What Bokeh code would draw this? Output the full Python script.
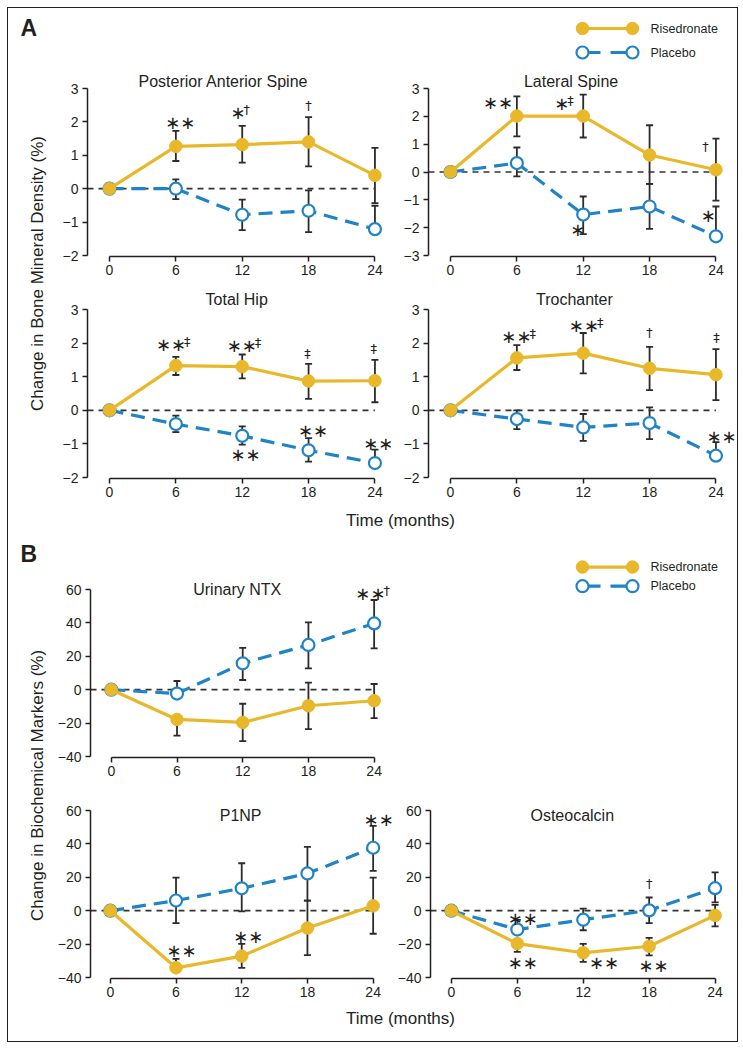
import math
from bokeh.plotting import figure
from bokeh.layouts import column, row
from bokeh.models import Range1d, FixedTicker, ColumnDataSource, Whisker, TeeHead
from bokeh.core.properties import value
from bokeh.embed import file_html
from bokeh.resources import INLINE

# ---------------- data ----------------
months = [0, 6, 12, 18, 24]
series_names = ["Risedronate", "Placebo"]

# Panel A: change in BMD (%)
pa_ris = [0, 1.27, 1.32, 1.40, 0.40]
pa_ris_lo = [0, 0.83, 0.78, 0.67, -0.43]
pa_ris_hi = [0, 1.73, 1.88, 2.14, 1.22]
pa_pla = [0, 0.0, -0.78, -0.66, -1.21]
pa_pla_lo = [0, -0.31, -1.24, -1.30, -1.21]
pa_pla_hi = [0, 0.28, -0.33, -0.05, -0.51]

lat_ris = [0, 2.01, 2.01, 0.61, 0.08]
lat_ris_lo = [0, 1.28, 1.24, -0.43, -1.03]
lat_ris_hi = [0, 2.72, 2.78, 1.68, 1.20]
lat_pla = [0, 0.32, -1.53, -1.24, -2.31]
lat_pla_lo = [0, -0.16, -2.23, -2.04, -2.31]
lat_pla_hi = [0, 0.88, -0.88, -0.43, -1.24]

hip_ris = [0, 1.33, 1.30, 0.87, 0.88]
hip_ris_lo = [0, 1.05, 0.95, 0.34, 0.24]
hip_ris_hi = [0, 1.59, 1.66, 1.38, 1.50]
hip_pla = [0, -0.41, -0.76, -1.19, -1.57]
hip_pla_lo = [0, -0.65, -1.02, -1.53, -1.57]
hip_pla_hi = [0, -0.16, -0.48, -0.83, -1.17]

tro_ris = [0, 1.56, 1.70, 1.25, 1.06]
tro_ris_lo = [0, 1.20, 1.10, 0.60, 0.30]
tro_ris_hi = [0, 1.94, 2.30, 1.89, 1.82]
tro_pla = [0, -0.26, -0.51, -0.38, -1.35]
tro_pla_lo = [0, -0.56, -0.91, -0.86, -1.35]
tro_pla_hi = [0, 0.0, -0.11, 0.09, -0.95]

# Panel B: change in biochemical markers (%)
ntx_ris = [0, -17.8, -19.6, -9.6, -6.6]
ntx_ris_lo = [0, -27.5, -30.8, -23.6, -17.0]
ntx_ris_hi = [0, -17.8, -8.4, 4.2, 3.4]
ntx_pla = [0, -2.3, 15.8, 26.8, 39.7]
ntx_pla_lo = [0, -2.3, 5.8, 12.8, 24.7]
ntx_pla_hi = [0, 5.2, 25.0, 40.3, 53.7]

p1_ris = [0, -34.2, -27.2, -10.4, 2.9]
p1_ris_lo = [0, -34.2, -34.2, -26.6, -13.8]
p1_ris_hi = [0, -28.8, -19.9, 6.0, 19.8]
p1_pla = [0, 6.1, 13.4, 22.3, 37.7]
p1_pla_lo = [0, -7.4, -0.4, 6.0, 23.8]
p1_pla_hi = [0, 19.8, 28.4, 38.2, 50.8]

os_ris = [0, -19.7, -25.2, -21.3, -2.8]
os_ris_lo = [0, -24.6, -30.6, -26.8, -9.4]
os_ris_hi = [0, -19.7, -19.9, -16.3, 3.5]
os_pla = [0, -11.3, -5.4, 0.2, 13.5]
os_pla_lo = [0, -11.3, -11.7, -7.4, 5.0]
os_pla_hi = [0, -5.5, 1.2, 7.9, 22.9]

# significance marks: (month, value, number of asterisks, dagger)
pa_marks = [(6.4, 1.98, 2, ""), (11.95, 2.27, 1, "†"), (18.0, 2.5, 0, "†")]
lat_marks = [(4.3, 2.48, 2, ""), (10.4, 2.45, 1, "‡"), (23.05, 0.91, 0, "†"),
             (11.5, -2.07, 1, ""), (23.3, -1.57, 1, "")]
hip_marks = [(5.9, 1.97, 2, "‡"), (12.3, 1.92, 2, "‡"), (17.9, 1.70, 0, "‡"),
             (23.9, 1.85, 0, "‡"), (18.4, -0.60, 2, ""), (12.3, -1.31, 2, ""),
             (24.3, -0.98, 2, "")]
tro_marks = [(6.3, 2.2, 2, "‡"), (12.4, 2.53, 2, "‡"), (18.0, 2.33, 0, "†"),
             (24.05, 2.16, 0, "‡"), (24.5, -0.79, 2, "")]
ntx_marks = [(24.0, 57.5, 2, "†")]
p1_marks = [(6.5, -23.7, 2, ""), (12.6, -15.3, 2, ""), (24.5, 54.6, 2, "")]
os_marks = [(6.5, -4.8, 2, ""), (6.5, -30.8, 2, ""), (13.9, -31.2, 2, ""),
            (18.4, -32.6, 2, ""), (18.0, 16.5, 0, "†")]

bmd_ticks = [-2, -1, 0, 1, 2, 3]
lat_ticks = [-3, -2, -1, 0, 1, 2, 3]
bio_ticks = [-40, -20, 0, 20, 40, 60]

# ---------------- style ----------------
GOLD = "#E8B82A"
BLUE = "#1F83C6"
INK = "#231F20"
FONT = "Liberation Sans"
SYM_FONT = "DejaVu Sans"
PX_PER_MONTH = 11.06


def x_range_for(frame_left, frame_w, x0_px):
    start = -(x0_px - frame_left) / PX_PER_MONTH
    return Range1d(start, start + frame_w / PX_PER_MONTH)


def y_range_for(frame_top, frame_h, hi_val, hi_px, lo_val, lo_px):
    k = (lo_px - hi_px) / (hi_val - lo_val)
    end = hi_val + (hi_px - frame_top) / k
    return Range1d(end - frame_h / k, end)


def add_marks(p, marks):
    for (mx, my, n, dag) in marks:
        ws = (15.1 * (n - 1) + 9) if n > 0 else 0
        wd = 6.5 if dag else 0
        gap = 1 if (n and dag) else 0
        tot = ws + gap + wd
        if n:
            p.text(x=[mx], y=[my], text=["∗" * n], text_font=value(SYM_FONT),
                   text_font_size="18px", text_color=INK, text_align="center",
                   text_baseline="middle", x_offset=-tot / 2 + ws / 2)
        if dag:
            p.text(x=[mx], y=[my], text=[dag], text_font=value(SYM_FONT),
                   text_font_size="13px", text_color=INK,
                   text_align="center", text_baseline="middle",
                   x_offset=-tot / 2 + ws + gap + wd / 2,
                   y_offset=-3 if n else 0)


def subplot(width, height, border_left, frame_h, yr, ticks, title, title_x,
            title_dy, ris, ris_lo, ris_hi, pla, pla_lo, pla_hi, marks, x0_px_off):
    frame_w = width - border_left
    p = figure(width=width, height=height, output_backend="svg",
               toolbar_location=None,
               x_range=x_range_for(0, frame_w, x0_px_off), y_range=yr,
               min_border_left=border_left, min_border_right=0,
               min_border_top=0, min_border_bottom=height - frame_h)
    p.outline_line_color = None
    p.grid.visible = False
    p.background_fill_color = "white"
    p.border_fill_color = "white"
    for ax, tk, bd in ((p.xaxis[0], months, (0, 24)), (p.yaxis[0], ticks, (ticks[0], ticks[-1]))):
        ax.ticker = FixedTicker(ticks=tk)
        ax.bounds = bd
        ax.major_tick_in = 0
        ax.major_tick_out = 5
        ax.minor_tick_in = 0
        ax.minor_tick_out = 0
        ax.axis_line_width = 1.5
        ax.axis_line_color = INK
        ax.major_tick_line_width = 1.5
        ax.major_tick_line_color = INK
        ax.major_label_text_font = FONT
        ax.major_label_text_font_size = "14px"
        ax.major_label_text_color = INK
    p.xaxis[0].major_label_standoff = 3
    p.yaxis[0].major_label_standoff = 4

    # zero reference line
    p.line(x=[p.x_range.start, 24], y=[0, 0], line_color="#333333",
           line_width=1.7, line_dash="6 5")

    for vals, lo, hi in ((pla, pla_lo, pla_hi), (ris, ris_lo, ris_hi)):
        src = ColumnDataSource(dict(x=months, y=vals, lo=lo, hi=hi))
        w = Whisker(source=src, base="x", lower="lo", upper="hi", dimension="height",
                    line_color="#2b2b2b", line_width=1.8,
                    lower_head=TeeHead(size=7, line_color="#2b2b2b", line_width=1.8),
                    upper_head=TeeHead(size=7, line_color="#2b2b2b", line_width=1.8))
        p.add_layout(w)
    src_p = ColumnDataSource(dict(x=months, y=pla))
    p.line("x", "y", source=src_p, line_color=BLUE, line_width=3.2, line_dash="14 8")
    p.scatter("x", "y", source=src_p, size=12, fill_color="white", line_color=BLUE,
              line_width=2.2)
    src_r = ColumnDataSource(dict(x=months, y=ris))
    p.line("x", "y", source=src_r, line_color=GOLD, line_width=3.2)
    p.scatter("x", "y", source=src_r, size=12.5, fill_color=GOLD, line_color=GOLD)

    p.text(x=[title_x], y=[ticks[-1]], text=[title], text_font=value(FONT),
           text_font_size="16px", text_color=INK, text_align="center",
           text_baseline="middle", y_offset=title_dy)
    add_marks(p, marks)
    return p


def deco(width, height):
    p = figure(width=width, height=height, output_backend="svg", toolbar_location=None,
               x_range=Range1d(0, width), y_range=Range1d(0, height),
               x_axis_type=None, y_axis_type=None,
               min_border=0, min_border_left=0, min_border_right=0,
               min_border_top=0, min_border_bottom=0)
    p.outline_line_color = None
    p.grid.visible = False
    p.background_fill_color = "white"
    p.border_fill_color = "white"
    return p


def draw_legend(p, x_left, y_ris, y_pla):
    p.line(x=[x_left, x_left + 50], y=[y_ris, y_ris], line_color=GOLD, line_width=3.2)
    p.scatter(x=[x_left, x_left + 50], y=[y_ris, y_ris], size=12.5, fill_color=GOLD,
              line_color=GOLD)
    p.line(x=[x_left, x_left + 50], y=[y_pla, y_pla], line_color=BLUE, line_width=3.2,
           line_dash="18 10")
    p.scatter(x=[x_left, x_left + 50], y=[y_pla, y_pla], size=12, fill_color="white",
              line_color=BLUE, line_width=2.2)
    p.text(x=[x_left + 68, x_left + 68], y=[y_ris, y_pla], text=series_names,
           text_font=value(FONT), text_font_size="12.5px", text_color=INK,
           text_align="left", text_baseline="middle")


TOTAL_W = 729
YLAB_W = 46
LEFT_W = 340
RIGHT_W = 343

# ---- Panel A ----
hdrA = deco(TOTAL_W, 62)
hdrA.text(x=[12], y=[43], text=["A"], text_font=value(FONT), text_font_size="23px",
          text_font_style="bold", text_color=INK, text_baseline="middle")
draw_legend(hdrA, 574, 42, 18)

ylabA = deco(YLAB_W, 433)
ylabA.text(x=[29], y=[230], text=["Change in Bone Mineral Density (%)"],
           text_font=value(FONT), text_font_size="17px", text_color=INK,
           text_align="center", text_baseline="middle", angle=math.pi / 2)

pa = subplot(LEFT_W, 212, 33, 186, y_range_for(70, 186, 3, 88, -2, 255), bmd_ticks,
             "Posterior Anterior Spine", 10.3, -7,
             pa_ris, pa_ris_lo, pa_ris_hi, pa_pla, pa_pla_lo, pa_pla_hi, pa_marks, 22)
lat = subplot(RIGHT_W, 212, 34, 186, y_range_for(70, 186, 3, 88, -3, 255), lat_ticks,
              "Lateral Spine", 10.9, -7,
              lat_ris, lat_ris_lo, lat_ris_hi, lat_pla, lat_pla_lo, lat_pla_hi, lat_marks, 22)
hip = subplot(LEFT_W, 221, 33, 196, y_range_for(282, 196, 3, 309, -2, 477), bmd_ticks,
              "Total Hip", 11.5, -10,
              hip_ris, hip_ris_lo, hip_ris_hi, hip_pla, hip_pla_lo, hip_pla_hi, hip_marks, 22)
tro = subplot(RIGHT_W, 221, 34, 196, y_range_for(282, 196, 3, 309, -2, 477), bmd_ticks,
              "Trochanter", 11.2, -10,
              tro_ris, tro_ris_lo, tro_ris_hi, tro_pla, tro_pla_lo, tro_pla_hi, tro_marks, 22)

timeA = deco(TOTAL_W, 34)
timeA.text(x=[392], y=[17], text=["Time (months)"], text_font=value(FONT),
           text_font_size="17px", text_color=INK, text_align="center",
           text_baseline="middle")

# ---- Panel B ----
ylabB = deco(YLAB_W, 466)
ylabB.text(x=[12], y=[450], text=["B"], text_font=value(FONT), text_font_size="23px",
           text_font_style="bold", text_color=INK, text_baseline="middle")
ylabB.text(x=[29], y=[218], text=["Change in Biochemical Markers (%)"],
           text_font=value(FONT), text_font_size="17px", text_color=INK,
           text_align="center", text_baseline="middle", angle=math.pi / 2)

ntx = subplot(LEFT_W, 253, 33, 220, y_range_for(537, 220, 60, 589, -40, 756), bio_ticks,
              "Urinary NTX", 11.5, 0,
              ntx_ris, ntx_ris_lo, ntx_ris_hi, ntx_pla, ntx_pla_lo, ntx_pla_hi, ntx_marks, 21)
legB = deco(RIGHT_W, 253)
draw_legend(legB, 188, 219, 197)

p1 = subplot(LEFT_W, 213, 33, 188, y_range_for(790, 188, 60, 810, -40, 977), bio_ticks,
             "P1NP", 11.9, 5,
             p1_ris, p1_ris_lo, p1_ris_hi, p1_pla, p1_pla_lo, p1_pla_hi, p1_marks, 20)
ost = subplot(RIGHT_W, 213, 34, 188, y_range_for(790, 188, 60, 810, -40, 977), bio_ticks,
              "Osteocalcin", 11.0, 5,
              os_ris, os_ris_lo, os_ris_hi, os_pla, os_pla_lo, os_pla_hi, os_marks, 21)

timeB = deco(TOTAL_W, 38)
timeB.text(x=[392], y=[23], text=["Time (months)"], text_font=value(FONT),
           text_font_size="17px", text_color=INK, text_align="center",
           text_baseline="middle")

layout = column(
    hdrA,
    row(ylabA, column(row(pa, lat, spacing=0), row(hip, tro, spacing=0), spacing=0), spacing=0),
    timeA,
    row(ylabB, column(row(ntx, legB, spacing=0), row(p1, ost, spacing=0), spacing=0), spacing=0),
    timeB,
    spacing=0,
    styles={"border": "1.5px solid #231F20", "margin": "6.5px 0 0 6.5px"},
)

open("out.html", "w").write(file_html(layout, INLINE))
